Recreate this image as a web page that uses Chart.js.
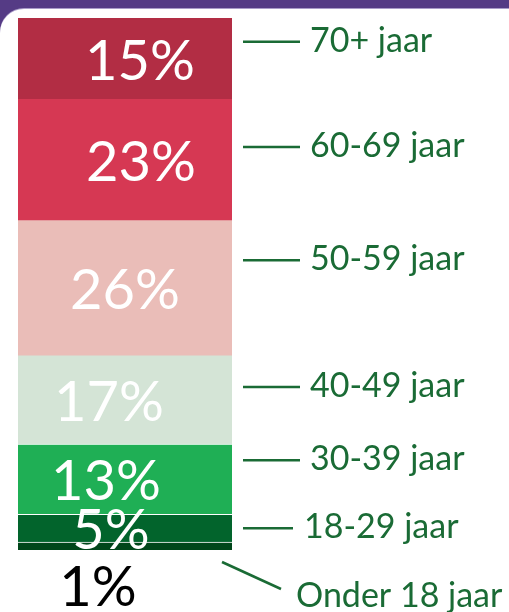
<!DOCTYPE html>
<html>
<head>
<meta charset="utf-8">
<script src="https://cdn.jsdelivr.net/npm/chart.js@4"></script>
<style>
  html, body { margin: 0; padding: 0; }
  body { width: 509px; height: 612px; background: #553b85; position: relative; overflow: hidden; }
  .card { position: absolute; left: 0; top: 9px; width: 530px; height: 620px; background: #fff;
          border-top-left-radius: 24px; box-shadow: 0 -1px 0 #a99bc8; }
  #wrap { position: absolute; left: 0; top: 0; width: 509px; height: 612px; }
</style>
</head>
<body>
<div class="card"></div>
<div id="wrap"><canvas id="myChart" width="509" height="612"></canvas></div>
<script>
// bottom to top
var groups = ["Onder 18 jaar", "18-29 jaar", "30-39 jaar", "40-49 jaar", "50-59 jaar", "60-69 jaar", "70+ jaar"];
var shares = [1.5, 5.2, 13.2, 16.6, 25.4, 22.8, 15.3];
var pctLabels = ["1%", "5%", "13%", "17%", "26%", "23%", "15%"];
var colors = ["#00461a", "#02642c", "#1faf55", "#d4e4d6", "#eabdb8", "#d63853", "#b22d44"];

// label styling tweaks (pixels)
var pctShiftX = [-27, -14, -19, -16, 0, 16, 15];
var tagShiftY = [0, 0, -19, -13, -28, -13, -17];

var green = "#1a6b35";

var labelPlugin = {
    id: "sideLabels",
    afterDatasetsDraw: function (chart) {
        var ctx = chart.ctx;
        ctx.save();
        chart.data.datasets.forEach(function (ds, i) {
            var bar = chart.getDatasetMeta(i).data[0];
            var top = Math.min(bar.y, bar.base), bottom = Math.max(bar.y, bar.base);
            var mid = (top + bottom) / 2;
            // percentage
            ctx.font = "56px Lato";
            ctx.textAlign = "center";
            ctx.textBaseline = "middle";
            if (i === 0) {
                ctx.fillStyle = "#000";
                ctx.fillText(pctLabels[i], bar.x + pctShiftX[i], bottom + 38);
            } else {
                ctx.fillStyle = "#fff";
                ctx.fillText(pctLabels[i], bar.x + pctShiftX[i], mid + 3);
            }
            // group tag with leader
            ctx.strokeStyle = green;
            ctx.lineWidth = 2.5;
            ctx.fillStyle = green;
            ctx.font = "34px Lato";
            ctx.textAlign = "left";
            ctx.beginPath();
            if (i === 0) {
                ctx.moveTo(bar.x + bar.width / 2 - 10, bottom + 12);
                ctx.lineTo(bar.x + bar.width / 2 + 49, bottom + 39);
                ctx.stroke();
                ctx.fillText(groups[i], 296, bottom + 46);
            } else {
                var y = mid + tagShiftY[i];
                ctx.moveTo(243, y);
                ctx.lineTo(i === 1 ? 293 : 300, y);
                ctx.stroke();
                ctx.fillText(groups[i], i === 1 ? 304 : 310, y - 1);
            }
        });
        ctx.restore();
    }
};

document.addEventListener("DOMContentLoaded", function () {
    var ctx = document.getElementById("myChart").getContext("2d");
    new Chart(ctx, {
        type: "bar",
        data: {
            labels: ["Leeftijd"],
            datasets: groups.map(function (g, i) {
                return {
                    label: g,
                    data: [shares[i]],
                    backgroundColor: colors[i],
                    borderColor: "#ffffff",
                    borderWidth: i < 3 ? { top: 1 } : 0,
                    borderSkipped: false,
                    barPercentage: 1,
                    categoryPercentage: 1
                };
            })
        },
        options: {
            responsive: false,
            animation: false,
            layout: { padding: { left: 18, right: 277, top: 18, bottom: 62 } },
            plugins: {
                legend: { display: false },
                tooltip: { enabled: false }
            },
            scales: {
                x: { stacked: true, display: false },
                y: { stacked: true, display: false, min: 0, max: 100 }
            }
        },
        plugins: [labelPlugin]
    });
});
</script>
</body>
</html>
